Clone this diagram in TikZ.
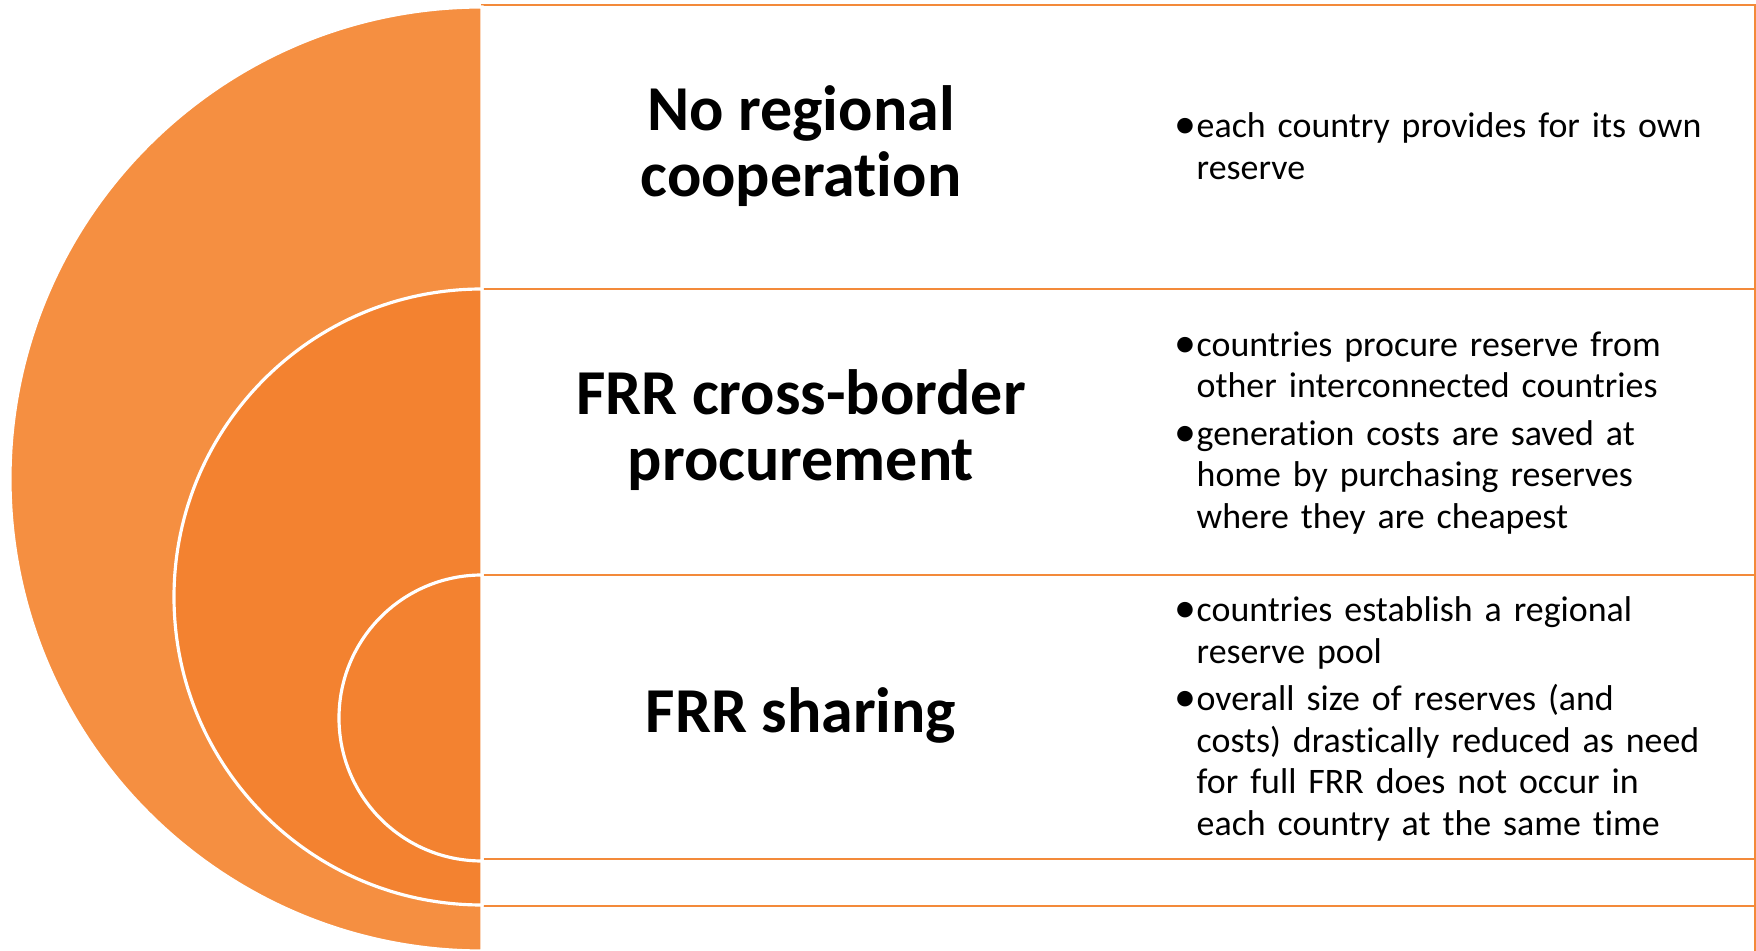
\documentclass[tikz,border=0pt]{standalone}
\usepackage{fontspec}
\setmainfont{Carlito}[Ligatures=NoCommon]
\usetikzlibrary{positioning}
\definecolor{ringlight}{RGB}{245,143,65}
\definecolor{ringdark}{RGB}{243,130,48}
\definecolor{boxline}{RGB}{243,138,58}
\newcommand{\bitem}[1]{\hangindent=0.22cm\hangafter=1\noindent
  \makebox[0.22cm][l]{\raisebox{-0.3pt}{\fontsize{12.5}{11.8}\selectfont\textbullet}}#1\par}

\begin{document}
\begin{tikzpicture}[
    x=0.01cm, y=0.01cm,
    rowbox/.style={draw=boxline, line width=0.7pt, fill=white},
    ring/.style={draw=white, line width=0.9pt},
    title/.style={font=\fontsize{18.2}{19}\selectfont\bfseries, align=center, inner sep=0pt},
    bullets/.style={font=\fontsize{10.2}{11.8}\selectfont\setlength{\parskip}{1.7pt},
        text width=6cm, align=left, anchor=west, inner sep=0pt},
]
\useasboundingbox (0,0) rectangle (1756,951);
% Boxes
\draw[rowbox] (482,-20) rectangle (1755,946);
\draw[rowbox] (482,45) rectangle (1755,662);
\draw[rowbox] (482,92) rectangle (1755,376);
% Rings
\fill[ringlight,ring] (482,944) arc (90:270:472) -- cycle;
\fill[ringdark,ring] (482,662) arc (90:270:308) -- cycle;
\fill[ringdark,ring] (482,376) arc (90:270:143) -- cycle;
% Titles
\node[title] (none) at (801,805) {No regional\\cooperation};
\node[title] (cross) at (801,521) {FRR cross-border\\procurement};
\node[title] (share) at (801,236) {FRR sharing};
% Bullets
\node[bullets] (noneb) at (1174,805) {%
  \bitem{each country provides for its own\newline reserve}};
\node[bullets] (crossb) at (1174,518) {%
  \bitem{countries procure reserve from\newline other interconnected countries}
  \bitem{generation costs are saved at\newline home by purchasing reserves\newline where they are cheapest}};
\node[bullets] (shareb) at (1174,232) {%
  \bitem{countries establish a regional\newline reserve pool}
  \bitem{overall size of reserves (and\newline costs) drastically reduced as need\newline for full FRR does not occur in\newline each country at the same time}};
\end{tikzpicture}
\end{document}
